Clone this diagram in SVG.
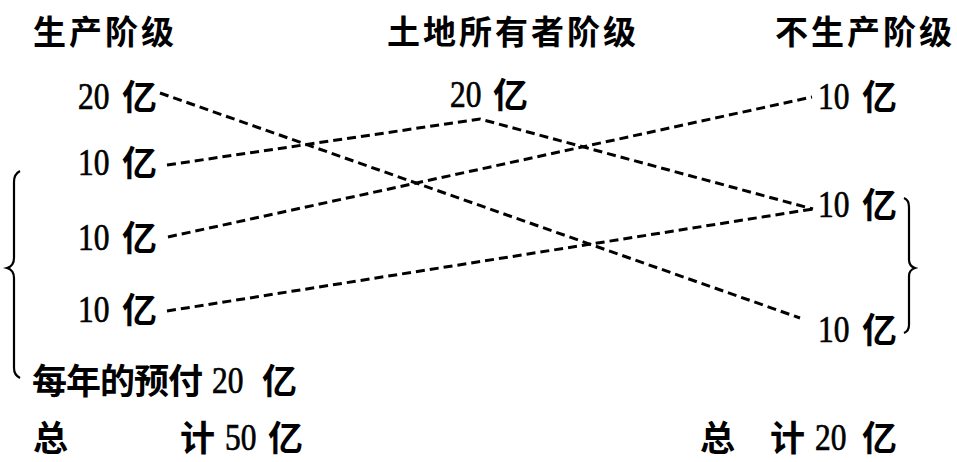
<svg xmlns="http://www.w3.org/2000/svg" width="957" height="462" viewBox="0 0 957 462">
<style>
text{fill:#000}
.t{font-family:"Noto Sans CJK SC",sans-serif;font-size:33px;font-weight:700;letter-spacing:3px}
.n{font-family:"Liberation Serif",serif;font-size:37px;stroke:#000;stroke-width:0.7}
.c{font-family:"Noto Sans CJK SC",sans-serif;font-weight:700;font-size:35px}
.d{fill:none;stroke:#000;stroke-width:3;stroke-dasharray:9 5}
.b{fill:none;stroke:#000;stroke-width:2.2}
</style>
<rect width="957" height="462" fill="#fff"/>
<g id="titles">
<text class="t" x="33" y="44">生产阶级</text>
<text class="t" x="387" y="44">土地所有者阶级</text>
<text class="t" x="775" y="44">不生产阶级</text>
</g>
<g id="p1"><text class="n" transform="translate(78 109) scale(0.85 1)">20</text><text class="c" x="122" y="110">亿</text></g>
<g id="p2"><text class="n" transform="translate(78 175) scale(0.85 1)">10</text><text class="c" x="122" y="176">亿</text></g>
<g id="p3"><text class="n" transform="translate(78 250) scale(0.85 1)">10</text><text class="c" x="122" y="251">亿</text></g>
<g id="p4"><text class="n" transform="translate(78 322) scale(0.85 1)">10</text><text class="c" x="122" y="323">亿</text></g>
<g id="l1"><text class="n" transform="translate(450 107) scale(0.85 1)">20</text><text class="c" x="493" y="108">亿</text></g>
<g id="s1"><text class="n" transform="translate(818 109) scale(0.85 1)">10</text><text class="c" x="862" y="110">亿</text></g>
<g id="s2"><text class="n" transform="translate(818 217) scale(0.85 1)">10</text><text class="c" x="862" y="218">亿</text></g>
<g id="s3"><text class="n" transform="translate(818 342) scale(0.85 1)">10</text><text class="c" x="862" y="343">亿</text></g>
<g id="connectors">
<path class="d" d="M160 93 L800 318"/>
<path class="d" d="M167 165 L480 119 L813 209"/>
<path class="d" d="M168 237 L812 97"/>
<path class="d" d="M167 311 L813 209"/>
</g>
<g id="braces">
<path class="b" d="M20 171 Q14 174 14 182 L14 258 Q14 266 7 268 Q14 270 14 278 L14 368 Q14 375 20 378"/>
<path class="b" d="M904 198 Q909 200 909 207 L909 260 Q909 266 915 268 Q909 270 909 276 L909 325 Q909 331 904 333"/>
</g>
<g id="totals">
<text class="c" x="32" y="394" letter-spacing="-1">每年的预付</text>
<text class="n" transform="translate(212 393) scale(0.85 1)">20</text>
<text class="c" x="262" y="394">亿</text>
<text class="c" x="33" y="451">总</text>
<text class="c" x="180" y="451">计</text>
<text class="n" transform="translate(225 450) scale(0.85 1)">50</text>
<text class="c" x="268" y="451">亿</text>
<text class="c" x="700" y="451">总</text>
<text class="c" x="770" y="451">计</text>
<text class="n" transform="translate(815 450) scale(0.85 1)">20</text>
<text class="c" x="862" y="451">亿</text>
</g>
</svg>
